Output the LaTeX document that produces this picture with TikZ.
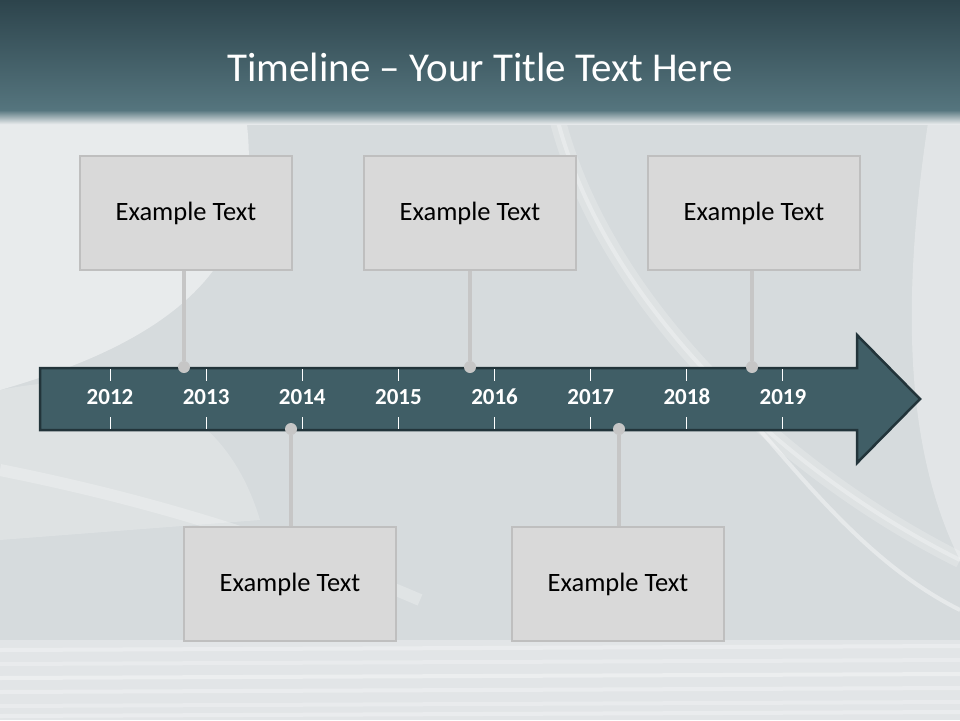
\documentclass[tikz,border=0pt]{standalone}
\usepackage{fontspec}
\setmainfont{Carlito}
\usetikzlibrary{positioning}
\definecolor{barTop}{RGB}{45,68,76}
\definecolor{barBot}{RGB}{85,117,126}
\definecolor{paper}{RGB}{214,219,221}
\definecolor{arrowFill}{RGB}{64,94,102}
\definecolor{arrowLine}{RGB}{34,52,58}
\definecolor{boxFill}{RGB}{217,217,217}
\definecolor{boxLine}{RGB}{191,191,191}
\definecolor{stem}{RGB}{198,198,198}
\tikzset{
  infobox/.style={draw=boxLine, line width=2.5pt, fill=boxFill,
    minimum width=212pt, minimum height=114pt, inner sep=0pt,
    font=\fontsize{26.5}{30}\selectfont},
  year/.style={text=white, font=\fontsize{23}{26}\selectfont\bfseries},
  pin/.style={circle, fill=stem, minimum size=12pt, inner sep=0pt},
  stemline/.style={stem, line width=4pt},
  tick/.style={white, line width=1pt}
}
\begin{document}
\begin{tikzpicture}[x=1pt,y=1pt,yscale=-1,xscale=1]
\useasboundingbox (0,0) rectangle (960,720);

%Background: paper
\fill [paper] (0,0) rectangle (960,720);
\fill [white, opacity=0.45] (0,110) -- (245,110) .. controls (265,240) and (210,330) .. (0,390) -- cycle ;
\fill [white, opacity=0.2] (0,390) .. controls (150,360) and (230,420) .. (260,520) -- (0,540) -- cycle ;
\fill [white, opacity=0.3] (930,110) .. controls (900,300) and (905,450) .. (960,560) -- (960,110) -- cycle ;
\draw [white, opacity=0.2, line width=16pt] (555,110) .. controls (600,300) and (780,470) .. (960,560) ;
\draw [white, opacity=0.3, line width=4pt] (555,110) .. controls (600,300) and (780,470) .. (960,560) ;
\draw [white, opacity=0.4, line width=4pt] (760,430) .. controls (820,500) and (880,570) .. (960,610) ;
\draw [white, opacity=0.25, line width=12pt] (0,470) .. controls (150,500) and (280,540) .. (420,600) ;
%Background: page edges at the bottom
\fill [white, opacity=0.3] (0,640) rectangle (960,720);
\foreach \y/\o in {650/0.3,664/0.25,678/0.35,692/0.3,706/0.25,716/0.3}
  \draw [white, opacity=\o, line width=4pt] (0,\y) -- (960,\y-4) ;

%Title bar
\shade [top color=barTop, bottom color=barBot] (0,0) rectangle (960,110);
\shade [top color=barBot, bottom color=paper!60!white] (0,110) rectangle (960,124);
\node [text=white, font=\fontsize{41}{48}\selectfont] (title) at (480,67) {Timeline – Your Title Text Here};

%Shape: Arrow
\draw [arrowLine, line width=2.5pt, fill=arrowFill] (40,368) -- (857,368) -- (857,335) -- (920,399) -- (857,463) -- (857,430) -- (40,430) -- cycle ;

%Years and ticks
\foreach \yr [count=\i from 0] in {2012,...,2019} {
  \node [year] (y\yr) at ({110+96.14*\i},397) {\yr};
  \draw [tick] ({110+96.14*\i},369) -- ({110+96.14*\i},381) ;
  \draw [tick] ({110+96.14*\i},417) -- ({110+96.14*\i},429) ;
}

%Boxes above
\node [infobox] (b1) at (186,213) {Example Text};
\node [infobox] (b2) at (470,213) {Example Text};
\node [infobox] (b3) at (754,213) {Example Text};
%Boxes below
\node [infobox] (b4) at (290,584) {Example Text};
\node [infobox] (b5) at (618,584) {Example Text};

%Pins on the arrow
\node [pin] (p1) at (184,367) {};
\node [pin] (p2) at (470,367) {};
\node [pin] (p3) at (752,367) {};
\node [pin] (p4) at (291,429) {};
\node [pin] (p5) at (619,429) {};

%Stems
\draw [stemline] (p1) -- (p1 |- b1.south) ;
\draw [stemline] (p2) -- (p2 |- b2.south) ;
\draw [stemline] (p3) -- (p3 |- b3.south) ;
\draw [stemline] (p4) -- (p4 |- b4.north) ;
\draw [stemline] (p5) -- (p5 |- b5.north) ;

\end{tikzpicture}
\end{document}
